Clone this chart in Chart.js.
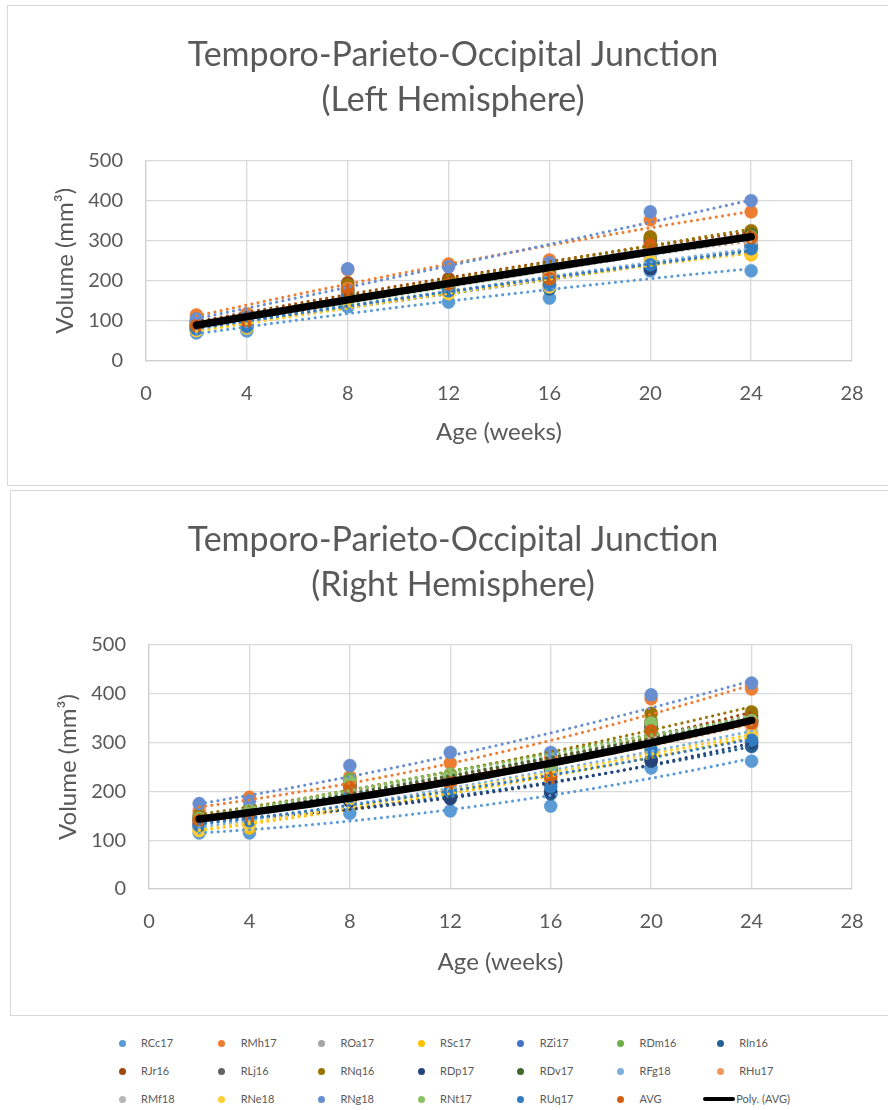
<!DOCTYPE html>
<html>
<head>
<meta charset="utf-8">
<script src="https://cdn.jsdelivr.net/npm/chart.js@4.4.1/dist/chart.umd.min.js"></script>
<style>
  html, body { margin: 0; padding: 0; background: #fff; }
  body { width: 888px; height: 1110px; position: relative; overflow: hidden; font-family: Lato, "Open Sans", sans-serif; }
  .frame { position: absolute; border: 1.5px solid #D9D9D9; box-sizing: border-box; }
  #frameLeft { left: 7px; top: 5px; width: 900px; height: 481px; }
  #frameRight { left: 10px; top: 490px; width: 900px; height: 526px; }
  canvas { position: absolute; left: 0; }
  #leftChart { top: 0; }
  #rightChart { top: 488px; }
  .item { position: absolute; font-size: 11px; color: #595959; line-height: 14px; white-space: nowrap; }
  .dot { position: absolute; width: 7px; height: 7px; border-radius: 50%; }
  .bar { position: absolute; width: 32px; height: 4px; background: #000; border-radius: 2px; }
</style>
</head>
<body>
<div class="frame" id="frameLeft"></div>
<div class="frame" id="frameRight"></div>
<canvas id="leftChart" width="888" height="487"></canvas>
<canvas id="rightChart" width="888" height="530"></canvas>
<div id="legend"></div>
<script>
// Scan ages (weeks)
const weeks = [2, 4, 8, 12, 16, 20, 24];

// Subjects, in series order
const subjects = ['RCc17', 'RMh17', 'ROa17', 'RSc17', 'RZi17', 'RDm16', 'RIn16',
                  'RJr16', 'RLj16', 'RNq16', 'RDp17', 'RDv17', 'RFg18', 'RHu17',
                  'RMf18', 'RNe18', 'RNg18', 'RNt17', 'RUq17'];
const subjectColors = ['#5B9BD5', '#ED7D31', '#A5A5A5', '#FFC000', '#4472C4', '#70AD47', '#255E91',
                       '#9E480E', '#636363', '#997300', '#264478', '#43682B', '#7CAFDD', '#F1975A',
                       '#B7B7B7', '#FFCD33', '#698ED0', '#8CC168', '#327DC2'];
const avgLabel = 'AVG';
const avgColor = '#D26012';
const polyLabel = 'Poly. (AVG)';

// Left hemisphere TPO junction volume (mm3), one row per subject
const leftVolumes = [
  [70, 75, 135, 147, 157, 225, 225],
  [115, 118, 228, 242, 252, 352, 372],
  [95, 100, 185, 200, 215, 300, 310],
  [78, 85, 155, 170, 190, 255, 265],
  [90, 95, 175, 185, 205, 280, 300],
  [85, 95, 170, 190, 210, 290, 305],
  [80, 88, 160, 172, 180, 240, 285],
  [100, 105, 195, 205, 220, 305, 320],
  [92, 98, 180, 195, 205, 300, 310],
  [95, 102, 190, 200, 215, 310, 325],
  [82, 90, 165, 180, 190, 230, 290],
  [88, 96, 172, 190, 205, 285, 315],
  [80, 88, 160, 175, 185, 260, 280],
  [90, 100, 180, 190, 210, 285, 295],
  [88, 95, 178, 188, 200, 280, 300],
  [76, 82, 150, 168, 185, 250, 270],
  [105, 110, 230, 235, 245, 372, 400],
  [86, 94, 170, 185, 200, 282, 310],
  [80, 86, 162, 175, 190, 240, 280]
];
const avgLeft = [88, 100, 178, 192, 205, 290, 308];

// Right hemisphere TPO junction volume (mm3), one row per subject
const rightVolumes = [
  [115, 115, 155, 160, 170, 248, 262],
  [160, 188, 230, 258, 270, 390, 410],
  [150, 165, 215, 230, 245, 335, 350],
  [120, 125, 180, 195, 215, 280, 310],
  [145, 160, 210, 225, 245, 330, 345],
  [140, 160, 225, 235, 250, 345, 345],
  [130, 140, 185, 190, 195, 265, 292],
  [145, 160, 210, 225, 240, 340, 355],
  [140, 155, 205, 220, 240, 330, 345],
  [150, 165, 220, 235, 250, 360, 363],
  [135, 145, 180, 185, 200, 262, 300],
  [140, 155, 215, 225, 245, 335, 340],
  [125, 135, 190, 205, 220, 300, 320],
  [135, 150, 200, 215, 230, 310, 335],
  [140, 155, 205, 220, 235, 320, 340],
  [120, 130, 185, 200, 220, 290, 315],
  [175, 180, 253, 280, 280, 398, 422],
  [145, 160, 220, 235, 250, 340, 345],
  [130, 140, 190, 200, 210, 285, 305]
];
const avgRight = [141, 150, 208, 218, 228, 324, 340];

// Axis ticks
const xTicks = [0, 4, 8, 12, 16, 20, 24, 28];
const yTicks = [0, 100, 200, 300, 400, 500];

const chartTitle = 'Temporo-Parieto-Occipital Junction';
const xTitle = 'Age (weeks)';
const yTitle = 'Volume (mm\u00B3)';

const FONT = 'Lato, "Open Sans", sans-serif';
const TEXT = '#595959';
const GRID = '#D9D9D9';

// Second-order least-squares trendline, sampled between the first and last age
function polyTrend(xs, ys) {
  const S = [0, 0, 0, 0, 0], T = [0, 0, 0];
  xs.forEach((x, i) => {
    let p = 1;
    for (let k = 0; k < 5; k++) { S[k] += p; p *= x; }
    T[0] += ys[i]; T[1] += ys[i] * x; T[2] += ys[i] * x * x;
  });
  const M = [[S[0], S[1], S[2]], [S[1], S[2], S[3]], [S[2], S[3], S[4]]];
  const det = m => m[0][0] * (m[1][1] * m[2][2] - m[1][2] * m[2][1])
                 - m[0][1] * (m[1][0] * m[2][2] - m[1][2] * m[2][0])
                 + m[0][2] * (m[1][0] * m[2][1] - m[1][1] * m[2][0]);
  const D = det(M);
  const coef = [0, 1, 2].map(c => det(M.map((row, r) => row.map((v, j) => (j === c ? T[r] : v)))) / D);
  const pts = [];
  const x0 = xs[0], x1 = xs[xs.length - 1];
  for (let x = x0; x <= x1 + 1e-9; x += 0.5) {
    pts.push({ x, y: coef[0] + coef[1] * x + coef[2] * x * x });
  }
  return pts;
}

function buildDatasets(rows, avg) {
  const series = rows.map((vals, i) => ({ name: subjects[i], color: subjectColors[i], vals }));
  series.push({ name: avgLabel, color: avgColor, vals: avg });
  const sets = [];
  series.forEach((s, i) => {
    sets.push({
      label: s.name,
      data: weeks.map((w, j) => ({ x: w, y: s.vals[j] })),
      showLine: false,
      pointRadius: 6.5,
      pointBackgroundColor: s.color,
      pointBorderColor: s.color,
      pointBorderWidth: 0.5,
      order: 200 - i
    });
  });
  series.forEach((s, i) => {
    if (s.name === avgLabel) return;
    sets.push({
      label: s.name + ' trend',
      data: polyTrend(weeks, s.vals),
      showLine: true,
      pointRadius: 0,
      borderColor: s.color,
      borderWidth: 3,
      borderDash: [0.1, 6.2],
      borderCapStyle: 'round',
      tension: 0,
      order: 100 - i
    });
  });
  sets.push({
    label: polyLabel,
    data: polyTrend(weeks, avg),
    showLine: true,
    pointRadius: 0,
    borderColor: '#000000',
    borderWidth: 7.5,
    borderCapStyle: 'round',
    tension: 0,
    order: 0
  });
  return sets;
}

const PAD_LEFT = 18;

function makeChart(id, hemisphere, rows, avg, geo) {
  const canvas = document.getElementById(id);
  return new Chart(canvas, {
    type: 'scatter',
    data: { datasets: buildDatasets(rows, avg) },
    options: {
      responsive: false,
      animation: false,
      events: [],
      layout: { padding: { left: PAD_LEFT, right: 0, top: 0, bottom: 0 } },
      plugins: {
        legend: { display: false },
        tooltip: { enabled: false },
        title: {
          display: true,
          text: [chartTitle, '(' + hemisphere + ')'],
          color: TEXT,
          font: { family: FONT, size: 34, weight: 'normal', lineHeight: 1.324 },
          padding: { top: geo.titleTop, bottom: geo.top - geo.titleTop - 90 }
        }
      },
      scales: {
        x: {
          type: 'linear',
          min: xTicks[0],
          max: xTicks[xTicks.length - 1],
          afterBuildTicks: s => { s.ticks = xTicks.map(v => ({ value: v })); },
          afterFit: s => { s.height = canvas.height - geo.bottom; },
          ticks: { color: TEXT, font: { family: FONT, size: 20 }, padding: 21 },
          grid: { color: GRID, lineWidth: 1.3, drawTicks: false },
          border: { color: '#CFCFCF', width: 1.3 },
          title: {
            display: true, text: xTitle, color: TEXT,
            font: { family: FONT, size: 24 },
            padding: { top: 0, bottom: canvas.height - geo.xTitleY - 14.4 }
          }
        },
        y: {
          type: 'linear',
          min: yTicks[0],
          max: yTicks[yTicks.length - 1],
          afterBuildTicks: s => { s.ticks = yTicks.map(v => ({ value: v })); },
          afterFit: s => { s.width = geo.left - PAD_LEFT; },
          ticks: { color: TEXT, font: { family: FONT, size: 20 }, padding: 23 },
          grid: { color: GRID, lineWidth: 1.3, drawTicks: false },
          border: { color: '#CFCFCF', width: 1.3 },
          title: {
            display: true, text: yTitle, color: TEXT,
            font: { family: FONT, size: 24 },
            padding: { top: geo.yTitleX - PAD_LEFT - 14.4, bottom: 0 }
          }
        },
        // empty right-hand gutter so the plot ends short of the frame edge
        gutter: {
          type: 'linear',
          position: 'right',
          display: true,
          afterFit: s => { s.width = canvas.width - geo.right; },
          ticks: { display: false },
          grid: { display: false, drawTicks: false },
          border: { display: false }
        }
      }
    }
  });
}

makeChart('leftChart', 'Left Hemisphere', leftVolumes, avgLeft,
  { left: 146, right: 852, top: 160.5, bottom: 361, titleTop: 33, xTitleY: 432, yTitleX: 65 });
makeChart('rightChart', 'Right Hemisphere', rightVolumes, avgRight,
  { left: 149, right: 852, top: 157, bottom: 401, titleTop: 30, xTitleY: 474, yTitleX: 68 });

// Shared legend below both charts
(function buildLegend() {
  const host = document.getElementById('legend');
  const entries = subjects.map((n, i) => ({ name: n, color: subjectColors[i] }));
  entries.push({ name: avgLabel, color: avgColor });
  entries.push({ name: polyLabel, line: true });
  entries.forEach((e, i) => {
    const col = i % 7, row = Math.floor(i / 7);
    const cx = 122 + col * 99.7, cy = 1043 + row * 28;
    if (e.line) {
      const bar = document.createElement('div');
      bar.className = 'bar';
      bar.style.left = (cx - 17) + 'px';
      bar.style.top = (cy - 2) + 'px';
      host.appendChild(bar);
    } else {
      const dot = document.createElement('div');
      dot.className = 'dot';
      dot.style.background = e.color;
      dot.style.left = (cx - 3.5) + 'px';
      dot.style.top = (cy - 3.5) + 'px';
      host.appendChild(dot);
    }
    const t = document.createElement('div');
    t.className = 'item';
    t.textContent = e.name;
    t.style.left = (e.line ? cx + 16 : cx + 19) + 'px';
    t.style.top = (cy - 7) + 'px';
    host.appendChild(t);
  });
})();
</script>
</body>
</html>
